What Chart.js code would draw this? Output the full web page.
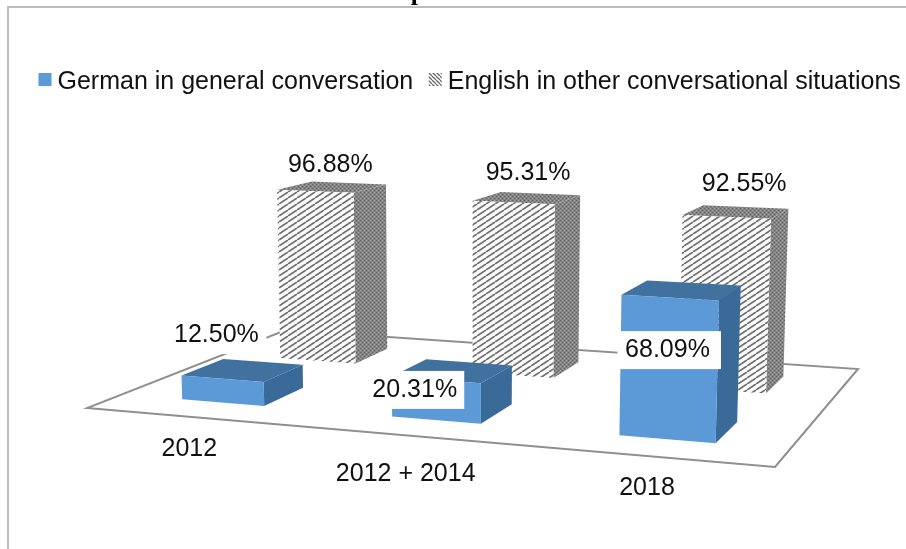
<!DOCTYPE html>
<html>
<head>
<meta charset="utf-8">
<style>
  html, body { margin: 0; padding: 0; background: #fff; overflow: hidden; }
  canvas { display: block; }
</style>
<script src="https://cdn.jsdelivr.net/npm/chart.js@4"></script>
</head>
<body>
<canvas id="chart" width="906" height="549"></canvas>
<script>
// Chart values
const categories = ['2012', '2012 + 2014', '2018'];
const germanGeneral = [12.50, 20.31, 68.09];
const englishOther = [96.88, 95.31, 92.55];
const seriesNames = ['German in general conversation', 'English in other conversational situations'];

// Perspective camera: floor coordinates (u across, v into the depth, z = value) to canvas pixels
const CAM = { a: 597.6, b: 261.84, c: 87, d: 4.53, e: -5.49, f: 408, g: -0.11664, h: 0.21972, p: -0.086, q: -2.0, r: -0.000184 };
function project(u, v, z) {
  const w = CAM.g * u + CAM.h * v + 1 + CAM.r * z;
  return {
    x: (CAM.a * u + CAM.b * v + CAM.c + CAM.p * z) / w,
    y: (CAM.d * u + CAM.e * v + CAM.f + CAM.q * z) / w
  };
}

// Depth bands occupied by each series on the floor
const depthBands = [[0.15, 0.35], [0.65, 0.85]];

// Label nudges relative to the centre of each bar's top face
const labelNudges = [
  [[-26.5, -35], [-38, 19], [-14.5, 60]],
  [[-2, -22], [1, -25], [8, -28]]
];
// White plate reach to the left and right of a German label's centre
const plateReach = [[49, 50], [49, 49.5], [50, 53.5]];
// Category label nudges relative to the front floor edge
const categoryNudges = [[-1, 32], [-4, 38], [-1, 32]];

const FONT_SIZE = 25;
const LABEL_FONT = FONT_SIZE + 'px "Liberation Sans", Arial, sans-serif';

// Tile helpers for the hatched series
function tile(w, h, paint) {
  const c = document.createElement('canvas');
  c.width = w; c.height = h;
  paint(c.getContext('2d'), w, h);
  return c;
}
const ctxMain = document.getElementById('chart').getContext('2d');

const hatchFront = ctxMain.createPattern(tile(9, 6, (t, w, h) => {
  t.fillStyle = '#fafafa';
  t.fillRect(0, 0, w, h);
  t.strokeStyle = '#6e6e6e';
  t.lineWidth = 1.7;
  for (const dx of [-w, 0, w]) {
    t.beginPath();
    t.moveTo(dx, h);
    t.lineTo(dx + w, 0);
    t.stroke();
  }
}), 'repeat');

const hatchDark = ctxMain.createPattern(tile(4, 4, (t, w, h) => {
  t.fillStyle = '#848484';
  t.fillRect(0, 0, w, h);
  t.fillStyle = '#5a5a5a';
  t.fillRect(0, 0, 1, 1);
  t.fillRect(2, 2, 1, 1);
  t.fillStyle = '#a8a8a8';
  t.fillRect(2, 0, 1, 1);
  t.fillRect(0, 2, 1, 1);
}), 'repeat');

const hatchLegend = ctxMain.createPattern(tile(4, 4, (t, w, h) => {
  t.fillStyle = '#ffffff';
  t.fillRect(0, 0, w, h);
  t.strokeStyle = '#6a6a6a';
  t.lineWidth = 1.3;
  for (const dx of [-w, 0, w]) {
    t.beginPath();
    t.moveTo(dx, 0);
    t.lineTo(dx + w, h);
    t.stroke();
  }
}), 'repeat');

const faceStyles = [
  { front: '#5b9ad6', top: '#41729f', side: '#3a6b98', swatch: '#5b9ad6' },
  { front: hatchFront, top: hatchDark, side: hatchDark, swatch: hatchLegend }
];

function fillPoly(ctx, pts, fill) {
  ctx.beginPath();
  pts.forEach((pt, i) => i ? ctx.lineTo(pt.x, pt.y) : ctx.moveTo(pt.x, pt.y));
  ctx.closePath();
  ctx.fillStyle = fill;
  ctx.fill();
}

// Reads a bar element from the scales and returns its box in floor coordinates
function barBox(chart, seriesIndex, el) {
  const area = chart.chartArea;
  const [v0, v1] = depthBands[seriesIndex];
  return {
    u0: (el.x - el.width / 2 - area.left) / area.width,
    u1: (el.x + el.width / 2 - area.left) / area.width,
    v0, v1,
    z: chart.scales.y.getValueForPixel(el.y)
  };
}

const scene3d = {
  id: 'scene3d',
  beforeDraw(chart) {
    const ctx = chart.ctx;
    ctx.save();
    // Frame around the figure
    ctx.strokeStyle = '#bcbcbc';
    ctx.lineWidth = 2;
    ctx.beginPath();
    ctx.moveTo(8, 549);
    ctx.lineTo(8, 7);
    ctx.lineTo(906, 7);
    ctx.stroke();
    // Descender of the running text above the figure
    ctx.fillStyle = '#000';
    ctx.font = 'bold 26px "Liberation Serif", "Times New Roman", serif';
    ctx.textAlign = 'center';
    ctx.textBaseline = 'alphabetic';
    ctx.fillText('p', 418, 0);
    ctx.restore();
  },
  beforeDatasetsDraw(chart) {
    // Floor plane
    const ctx = chart.ctx;
    const corners = [project(0, 0, 0), project(1, 0, 0), project(1, 1, 0), project(0, 1, 0)];
    ctx.save();
    ctx.beginPath();
    corners.forEach((pt, i) => i ? ctx.lineTo(pt.x, pt.y) : ctx.moveTo(pt.x, pt.y));
    ctx.closePath();
    ctx.strokeStyle = '#8f8f8f';
    ctx.lineWidth = 2;
    ctx.stroke();
    ctx.restore();
  },
  beforeDatasetDraw(chart, args) {
    const ctx = chart.ctx;
    const style = faceStyles[args.index];
    ctx.save();
    args.meta.data.forEach(el => {
      const b = barBox(chart, args.index, el);
      fillPoly(ctx, [project(b.u1, b.v0, 0), project(b.u1, b.v1, 0), project(b.u1, b.v1, b.z), project(b.u1, b.v0, b.z)], style.side);
      fillPoly(ctx, [project(b.u0, b.v0, b.z), project(b.u1, b.v0, b.z), project(b.u1, b.v1, b.z), project(b.u0, b.v1, b.z)], style.top);
      fillPoly(ctx, [project(b.u0, b.v0, 0), project(b.u1, b.v0, 0), project(b.u1, b.v0, b.z), project(b.u0, b.v0, b.z)], style.front);
    });
    ctx.restore();
    return false;
  },
  afterDatasetsDraw(chart) {
    const ctx = chart.ctx;
    ctx.save();
    ctx.font = LABEL_FONT;
    ctx.textBaseline = 'middle';
    ctx.textAlign = 'center';

    // Value labels; the German ones sit on white plates
    [0, 1].forEach(si => {
      const values = si === 0 ? germanGeneral : englishOther;
      chart.getDatasetMeta(si).data.forEach((el, i) => {
        const b = barBox(chart, si, el);
        const c = project((b.u0 + b.u1) / 2, (b.v0 + b.v1) / 2, b.z);
        const x = c.x + labelNudges[si][i][0];
        const y = c.y + labelNudges[si][i][1];
        const text = values[i].toFixed(2) + '%';
        if (si === 0) {
          const [reachL, reachR] = plateReach[i];
          ctx.fillStyle = '#fff';
          ctx.fillRect(x - reachL, y - 19, reachL + reachR, 38);
        }
        ctx.fillStyle = '#111';
        ctx.fillText(text, x, y);
      });
    });

    // Category labels follow the front edge of the floor
    const xScale = chart.scales.x;
    const area = chart.chartArea;
    categories.forEach((name, i) => {
      const u = (xScale.getPixelForTick(i) - area.left) / area.width;
      const pt = project(u, 0, 0);
      ctx.fillStyle = '#111';
      ctx.fillText(xScale.getLabelForValue(i), pt.x + categoryNudges[i][0], pt.y + categoryNudges[i][1]);
    });

    // Legend swatches sit closer to their text than the built-in box would
    const legend = chart.legend;
    const boxW = legend.options.labels.boxWidth;
    legend.legendHitBoxes.forEach((hit, i) => {
      const textX = hit.left + boxW + FONT_SIZE / 2;
      ctx.fillStyle = faceStyles[i].swatch;
      ctx.fillRect(textX - 19, legend.top + 6, 13, 13);
    });
    ctx.restore();
  }
};

new Chart(ctxMain, {
  type: 'bar',
  data: {
    labels: categories,
    datasets: [
      { label: seriesNames[0], data: germanGeneral, backgroundColor: '#5b9ad6' },
      { label: seriesNames[1], data: englishOther, backgroundColor: hatchFront }
    ]
  },
  options: {
    responsive: false,
    animation: false,
    events: [],
    layout: { padding: { left: 23, right: -10, top: 67, bottom: 10 } },
    datasets: { bar: { grouped: false, barPercentage: 0.4, categoryPercentage: 1 } },
    scales: {
      x: { display: false, offset: true },
      y: { display: false, min: 0, max: 100 }
    },
    plugins: {
      tooltip: { enabled: false },
      legend: {
        position: 'top',
        align: 'start',
        labels: {
          boxWidth: 19,
          boxHeight: 1,
          padding: 3,
          color: '#111',
          font: { family: '"Liberation Sans", Arial, sans-serif', size: FONT_SIZE },
          generateLabels: () => seriesNames.map((text, i) => ({
            text,
            fillStyle: 'rgba(0,0,0,0)',
            strokeStyle: 'rgba(0,0,0,0)',
            lineWidth: 0,
            datasetIndex: i,
            fontColor: '#111'
          }))
        }
      }
    }
  },
  plugins: [scene3d]
});
</script>
</body>
</html>
